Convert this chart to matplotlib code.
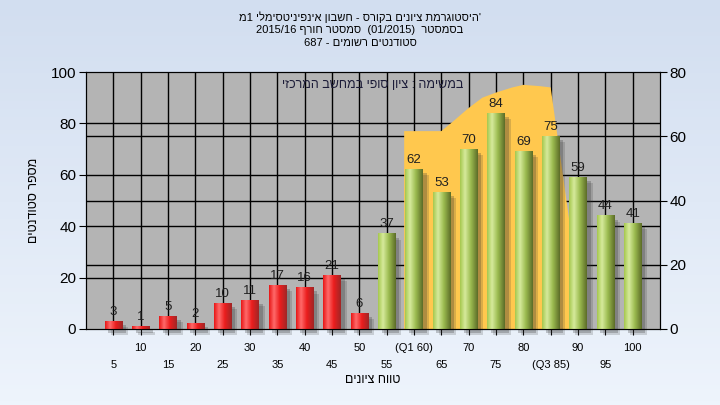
import re
import numpy as np
import matplotlib.pyplot as plt
from matplotlib.colors import to_rgb
from matplotlib.patches import Rectangle

plt.rcParams['font.family'] = ['Liberation Sans', 'DejaVu Sans']

# data
grades = [5, 10, 15, 20, 25, 30, 35, 40, 45, 50,
          55, 60, 65, 70, 75, 80, 85, 90, 95, 100]
counts = [3, 1, 5, 2, 10, 11, 17, 16, 21, 6,
          37, 62, 53, 70, 84, 69, 75, 59, 44, 41]
tick_lbls = ['5', '10', '15', '20', '25', '30', '35', '40', '45', '50',
             '55', '(Q1 60)', '65', '70', '75', '80', '(Q3 85)', '90', '95', '100']
pass_grade = 55

# orange band (Q1..Q3), outline, left axis units
area_grades = [58.2, 58.2, 60, 65, 67, 70, 72.5, 75, 78, 80, 83, 85, 89, 89]
area_vals = [0, 77, 77, 77, 80.5, 86, 90, 92, 94, 95, 94.5, 94, 33, 0]

left_ticks = [0, 20, 40, 60, 80, 100]
right_ticks = [0, 20, 40, 60, 80]

# texts in right-to-left reading order
title_lines = ["'היסטוגרמת ציונים בקורס - חשבון אינפיניטסימלי 1מ",
               "בסמסטר  (01/2015)  סמסטר חורף 2015/16",
               "סטודנטים רשומים - 687"]
note_txt = "במשימה : ציון סופי במחשב המרכזי"
xlabel_txt = "טווח ציונים"
ylabel_txt = "מספר סטודנטים"


def rtl(s):
    # matplotlib has no bidi: put hebrew in visual order, keep numbers LTR
    r = s[::-1].translate(str.maketrans('()', ')('))
    return re.sub(r'[0-9][0-9/.]*[0-9]|[0-9]', lambda m: m.group(0)[::-1], r)


def gradient(stops, n=64):
    pos = [p for p, _ in stops]
    cols = np.array([to_rgb(c) for _, c in stops])
    xs = np.linspace(0, 1, n)
    g = np.stack([np.interp(xs, pos, cols[:, k]) for k in range(3)], axis=1)
    return g[np.newaxis, :, :]


red_grad = gradient([(0, '#e81616'), (0.28, '#ff6a6a'), (0.6, '#ec1e1e'), (1, '#a02626')])
green_grad = gradient([(0, '#a6c84e'), (0.28, '#d6ea9c'), (0.6, '#9cbc50'), (1, '#5c6c28')])

fig = plt.figure(figsize=(7.2, 4.05), dpi=100)

# background
bg = fig.add_axes([0, 0, 1, 1], zorder=-10)
top_c, bot_c = np.array(to_rgb('#d2def0')), np.array(to_rgb('#eef4fc'))
bg_grad = np.linspace(0, 1, 100)[:, None, None] * (bot_c - top_c) + top_c
bg.imshow(bg_grad, aspect='auto', extent=(0, 1, 0, 1), origin='upper')
bg.axis('off')

ax = fig.add_axes([86 / 720, 1 - 329 / 405, 574 / 720, 257 / 405])
ax.set_facecolor('#b4b4b4')

xpos = np.arange(1, len(grades) + 1)
w = 0.64

# grid
for t in left_ticks[1:-1]:
    ax.axhline(t, color='k', lw=1, zorder=0.5)
for t in right_ticks[1:-1]:
    ax.axhline(t * 100 / 80, color='k', lw=1, zorder=0.5)
for x in xpos:
    ax.axvline(x, color='k', lw=1, zorder=0.5)

# orange band
ax.fill(np.array(area_grades) / 5, area_vals, color='#ffc84e', lw=0, zorder=1)

for x, v, g in zip(xpos, counts, grades):
    # soft shadow
    ax.add_patch(Rectangle((x - w / 2 + 0.22, -2.2), w, v, color='#303030', alpha=0.18,
                           lw=0, zorder=2, clip_on=False))
    ax.add_patch(Rectangle((x - w / 2 + 0.14, -1.4), w, v, color='#303030', alpha=0.25,
                           lw=0, zorder=2, clip_on=False))
    grad = red_grad if g < pass_grade else green_grad
    ax.imshow(grad, extent=(x - w / 2, x + w / 2, 0, v), aspect='auto',
              interpolation='bilinear', zorder=3)
    ax.annotate(str(v), (x, v), xytext=(0, 2.5), textcoords='offset points',
                ha='center', va='bottom', fontsize=9.5, color='#202020', zorder=4)

ax.set_xlim(0, len(grades) + 1)
ax.set_ylim(0, 100)
ax.set_yticks(left_ticks)
ax.set_xticks(xpos)
ax.set_xticklabels(tick_lbls, fontsize=8)
for i, tk in enumerate(ax.xaxis.get_major_ticks()):
    tk.set_pad(6 if i % 2 else 18)
ax.tick_params(axis='x', length=4, color='k')
ax.tick_params(axis='y', length=5, labelsize=11, pad=2, color='k')
for sp in ax.spines.values():
    sp.set_color('k')

ax2 = ax.twinx()
ax2.set_ylim(0, 80)
ax2.set_yticks(right_ticks)
ax2.tick_params(axis='y', length=5, labelsize=11, pad=2, color='k')
ax2.patch.set_visible(False)
for sp in ax2.spines.values():
    sp.set_color('k')

ax.text(0.5, 0.949, rtl(note_txt), transform=ax.transAxes, ha='center', va='center',
        fontsize=9, color='#1c1c38', zorder=5)

for i, line in enumerate(title_lines):
    fig.text(0.5, 1 - (17 + 13 * i) / 405, rtl(line), ha='center', va='center', fontsize=8)

fig.text(373 / 720, 1 - 380 / 405, rtl(xlabel_txt), ha='center', va='center', fontsize=9)
fig.text(34 / 720, 1 - 200 / 405, rtl(ylabel_txt), ha='center', va='center', fontsize=9,
         rotation=90)

fig.savefig('out.png', dpi=100)
